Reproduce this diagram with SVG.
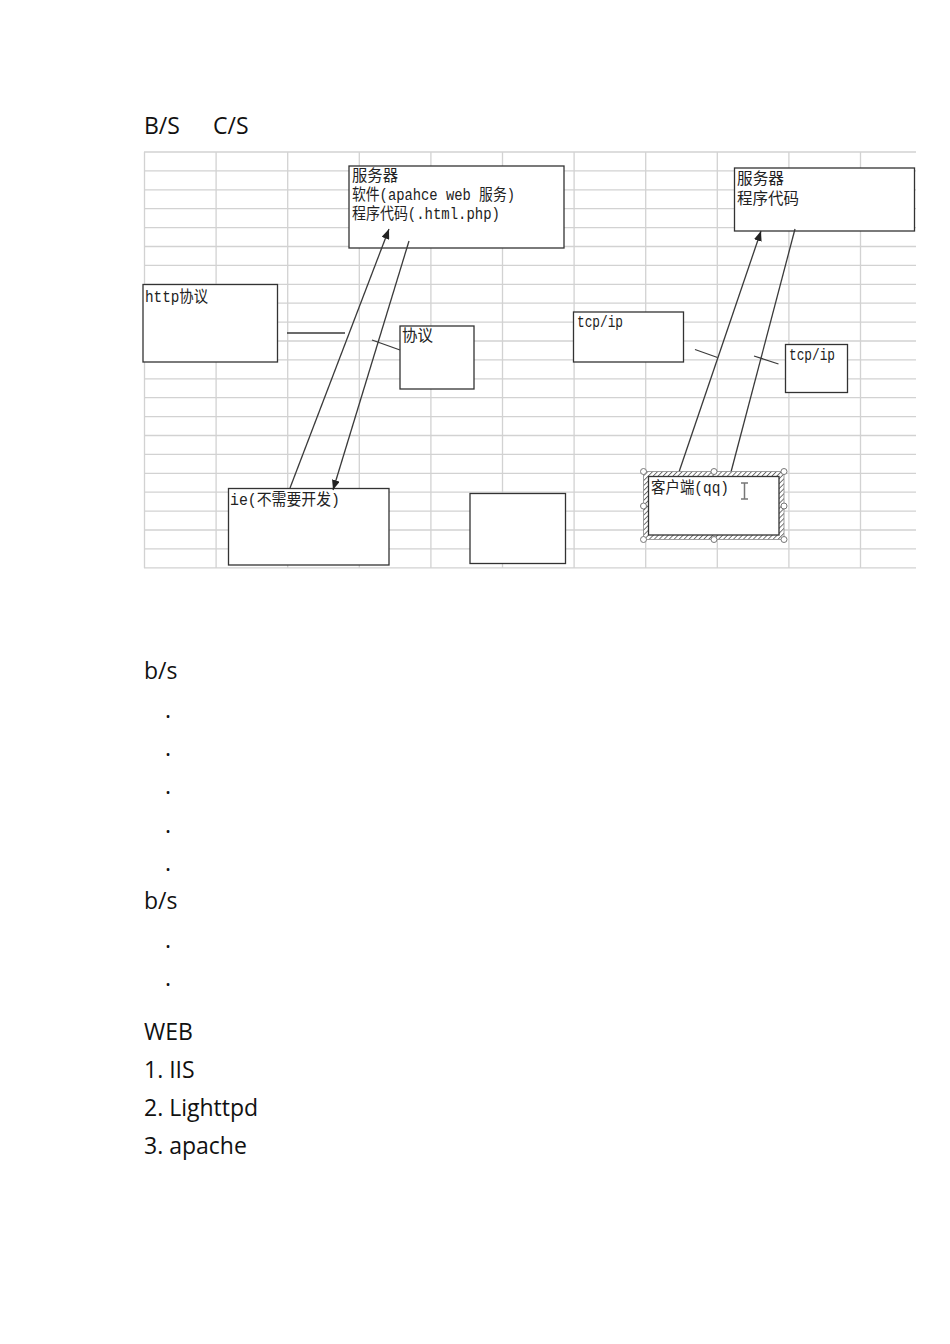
<svg xmlns="http://www.w3.org/2000/svg" width="950" height="1344" viewBox="0 0 950 1344">
<style>
.grid{stroke:#d2d2d2;stroke-width:1.3}
.box{fill:#fff;stroke:#333;stroke-width:1.3}
.lbl{font-family:"Liberation Mono","Noto Sans CJK SC",monospace;font-size:16px;fill:#222}
.conn{stroke:#3a3a3a;stroke-width:1.3;fill:none}
.doc{font-family:"Open Sans","Noto Sans",sans-serif;font-size:23px;fill:#111}
.handle{fill:#fff;stroke:#777;stroke-width:1}
</style>
<defs>
<marker id="arr" markerUnits="userSpaceOnUse" markerWidth="10" markerHeight="8" refX="10" refY="4" orient="auto">
<path d="M0,0 L10,4 L0,8 z" fill="#222"/>
</marker>
<pattern id="hatch" patternUnits="userSpaceOnUse" width="3.5" height="3.5" patternTransform="rotate(45)">
<rect width="3.5" height="3.5" fill="#fff"/>
<line x1="0" y1="0" x2="0" y2="3.5" stroke="#666" stroke-width="1.8"/>
</pattern>
</defs>
<rect width="950" height="1344" fill="#fff"/>

<g id="doc-text">
<text class="doc" x="144" y="134">B/S</text>
<text class="doc" x="213" y="134">C/S</text>
<text class="doc" x="144" y="679">b/s</text>
<text class="doc" x="165" y="718">.</text>
<text class="doc" x="165" y="756">.</text>
<text class="doc" x="165" y="794">.</text>
<text class="doc" x="165" y="833">.</text>
<text class="doc" x="165" y="871">.</text>
<text class="doc" x="144" y="909">b/s</text>
<text class="doc" x="165" y="948">.</text>
<text class="doc" x="165" y="986">.</text>
<text class="doc" x="144" y="1040">WEB</text>
<text class="doc" x="144" y="1078">1. IIS</text>
<text class="doc" x="144" y="1116">2. Lighttpd</text>
<text class="doc" x="144" y="1154">3. apache</text>
</g>

<g id="grid">
<line class="grid" x1="144" y1="152" x2="916" y2="152"/>
<line class="grid" x1="144" y1="170.9" x2="916" y2="170.9"/>
<line class="grid" x1="144" y1="189.8" x2="916" y2="189.8"/>
<line class="grid" x1="144" y1="208.7" x2="916" y2="208.7"/>
<line class="grid" x1="144" y1="227.6" x2="916" y2="227.6"/>
<line class="grid" x1="144" y1="246.5" x2="916" y2="246.5"/>
<line class="grid" x1="144" y1="265.4" x2="916" y2="265.4"/>
<line class="grid" x1="144" y1="284.3" x2="916" y2="284.3"/>
<line class="grid" x1="144" y1="303.2" x2="916" y2="303.2"/>
<line class="grid" x1="144" y1="322.1" x2="916" y2="322.1"/>
<line class="grid" x1="144" y1="341" x2="916" y2="341"/>
<line class="grid" x1="144" y1="359.9" x2="916" y2="359.9"/>
<line class="grid" x1="144" y1="378.8" x2="916" y2="378.8"/>
<line class="grid" x1="144" y1="397.7" x2="916" y2="397.7"/>
<line class="grid" x1="144" y1="416.6" x2="916" y2="416.6"/>
<line class="grid" x1="144" y1="435.5" x2="916" y2="435.5"/>
<line class="grid" x1="144" y1="454.4" x2="916" y2="454.4"/>
<line class="grid" x1="144" y1="473.3" x2="916" y2="473.3"/>
<line class="grid" x1="144" y1="492.2" x2="916" y2="492.2"/>
<line class="grid" x1="144" y1="511.1" x2="916" y2="511.1"/>
<line class="grid" x1="144" y1="530" x2="916" y2="530"/>
<line class="grid" x1="144" y1="548.9" x2="916" y2="548.9"/>
<line class="grid" x1="144" y1="567.8" x2="916" y2="567.8"/>
<line class="grid" x1="144.5" y1="152" x2="144.5" y2="568"/>
<line class="grid" x1="216.1" y1="152" x2="216.1" y2="568"/>
<line class="grid" x1="287.7" y1="152" x2="287.7" y2="568"/>
<line class="grid" x1="359.3" y1="152" x2="359.3" y2="568"/>
<line class="grid" x1="430.9" y1="152" x2="430.9" y2="568"/>
<line class="grid" x1="502.5" y1="152" x2="502.5" y2="568"/>
<line class="grid" x1="574.1" y1="152" x2="574.1" y2="568"/>
<line class="grid" x1="645.7" y1="152" x2="645.7" y2="568"/>
<line class="grid" x1="717.3" y1="152" x2="717.3" y2="568"/>
<line class="grid" x1="788.9" y1="152" x2="788.9" y2="568"/>
<line class="grid" x1="860.5" y1="152" x2="860.5" y2="568"/>
</g>

<g id="node-server-bs">
<rect class="box" x="349" y="166" width="215" height="82"/>
<text class="lbl" x="352" y="181" textLength="46" lengthAdjust="spacingAndGlyphs">服务器</text>
<text class="lbl" x="352" y="200" textLength="163" lengthAdjust="spacingAndGlyphs">软件(apahce web 服务)</text>
<text class="lbl" x="352" y="219" textLength="148" lengthAdjust="spacingAndGlyphs">程序代码(.html.php)</text>
</g>

<g id="node-http">
<rect class="box" x="143" y="284.5" width="134.5" height="77.5"/>
<text class="lbl" x="145" y="302" textLength="63" lengthAdjust="spacingAndGlyphs">http协议</text>
</g>

<g id="node-xieyi">
<rect class="box" x="400" y="326" width="74" height="63"/>
<text class="lbl" x="402" y="341" textLength="31" lengthAdjust="spacingAndGlyphs">协议</text>
</g>

<g id="node-ie">
<rect class="box" x="228.5" y="488.5" width="160.5" height="76.5"/>
<text class="lbl" x="230" y="505" textLength="110" lengthAdjust="spacingAndGlyphs">ie(不需要开发)</text>
</g>

<g id="node-empty">
<rect class="box" x="470" y="493.5" width="95.5" height="70"/>
</g>

<g id="node-server-cs">
<rect class="box" x="734.5" y="168" width="180" height="63"/>
<text class="lbl" x="737" y="184" textLength="47" lengthAdjust="spacingAndGlyphs">服务器</text>
<text class="lbl" x="737" y="204" textLength="62" lengthAdjust="spacingAndGlyphs">程序代码</text>
</g>

<g id="node-tcp-left">
<rect class="box" x="573.5" y="312" width="110" height="50"/>
<text class="lbl" x="577" y="327" textLength="46" lengthAdjust="spacingAndGlyphs">tcp/ip</text>
</g>

<g id="node-tcp-right">
<rect class="box" x="785.5" y="344.5" width="62" height="48"/>
<text class="lbl" x="789" y="360" textLength="46" lengthAdjust="spacingAndGlyphs">tcp/ip</text>
</g>

<g id="connectors">
<line class="conn" x1="290" y1="488" x2="389" y2="229" marker-end="url(#arr)"/>
<line class="conn" x1="409" y1="241" x2="333" y2="490" marker-end="url(#arr)"/>
<line class="conn" x1="287" y1="333" x2="345" y2="333"/>
<line class="conn" x1="372" y1="340" x2="400" y2="350"/>
<line class="conn" x1="679" y1="472" x2="761" y2="231" marker-end="url(#arr)"/>
<line class="conn" x1="795" y1="229" x2="731" y2="472"/>
<line class="conn" x1="695" y1="349.5" x2="717.5" y2="357.5"/>
<line class="conn" x1="754" y1="356" x2="778.5" y2="364"/>
</g>

<g id="node-client">
<rect x="643.5" y="471.5" width="140.5" height="68" fill="url(#hatch)" stroke="#888" stroke-width="0.8"/>
<rect class="box" x="648.5" y="476.5" width="130.5" height="58.5"/>
<circle class="handle" cx="643.5" cy="471.5" r="3"/>
<circle class="handle" cx="714" cy="471.5" r="3"/>
<circle class="handle" cx="784" cy="471.5" r="3"/>
<circle class="handle" cx="643.5" cy="506" r="3"/>
<circle class="handle" cx="784" cy="506" r="3"/>
<circle class="handle" cx="643.5" cy="539.5" r="3"/>
<circle class="handle" cx="714" cy="539.5" r="3"/>
<circle class="handle" cx="784" cy="539.5" r="3"/>
<text class="lbl" x="651" y="493" textLength="78" lengthAdjust="spacingAndGlyphs">客户端(qq)</text>
<path d="M741,483 h7 M744.5,483 v16 M741,499 h7" stroke="#777" stroke-width="1.5" fill="none"/>
</g>
</svg>
